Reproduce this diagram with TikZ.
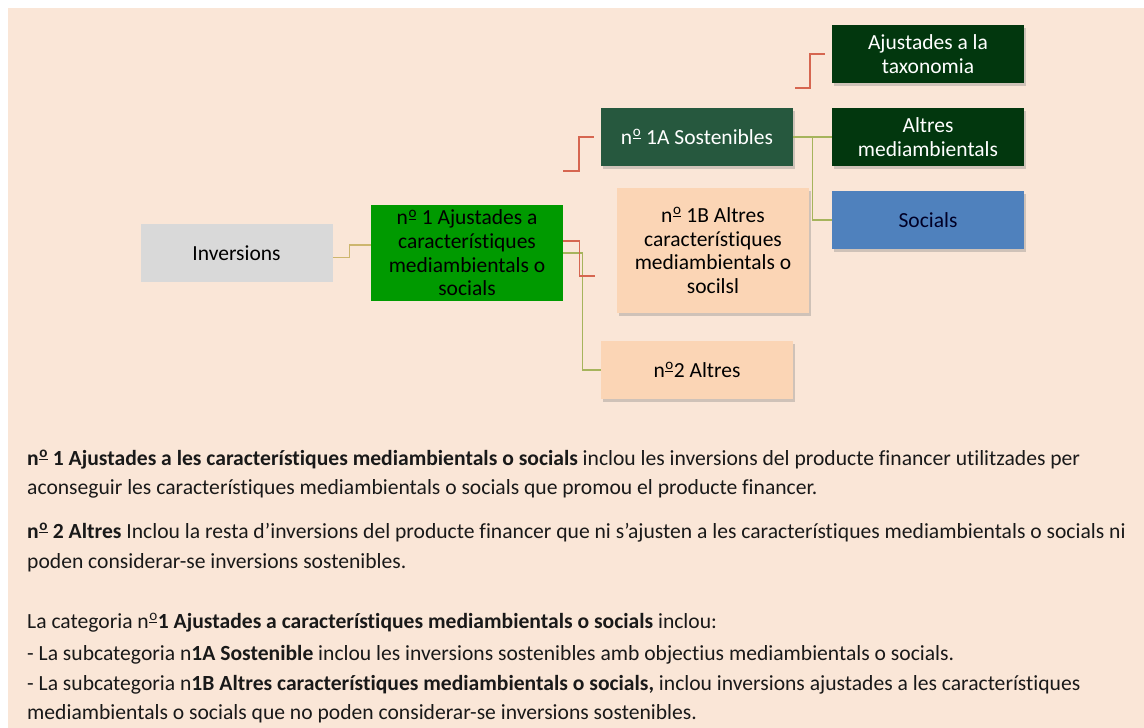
\documentclass[tikz,border=0pt]{standalone}
\usepackage{fontspec}
\setmainfont{Carlito}[Ligatures = NoCommon]
\usepackage{tikz}
\usetikzlibrary{calc, shadows}

\definecolor{fons}{RGB}{250,230,215}
\definecolor{grisclar}{RGB}{217,217,217}
\definecolor{verd}{RGB}{0,154,0}
\definecolor{verdfosc}{RGB}{38,88,62}
\definecolor{verdnegre}{RGB}{2,55,14}
\definecolor{preseg}{RGB}{251,213,181}
\definecolor{blau}{RGB}{79,129,189}
\definecolor{vermell}{RGB}{214,102,80}
\definecolor{oliva}{RGB}{166,180,92}
\definecolor{palla}{RGB}{205,182,110}

% o ordinal subratllada
\newcommand{\ordo}{\textsuperscript{\kern0.04em\underline{\smash{o}}}}

\tikzset{
  caixa/.style = {rectangle, minimum width = 192pt, minimum height = 58pt,
    inner sep = 2pt, align = center,
    font = \fontsize{21.5}{23.7}\selectfont},
  ombra/.style = {drop shadow = {opacity = 0.35, shadow xshift = 2pt,
    shadow yshift = -3pt}},
  linia/.style = {line width = 1.2pt},
  text cos/.style = {anchor = base west, inner sep = 0pt, text = black!90,
    font = \fontsize{21.6}{25}\selectfont}
}

\begin{document}
\begin{tikzpicture}[x = 1pt, y = -1pt]
\useasboundingbox (0, 0) rectangle (1144, 728);
\fill[white] (0, 0) rectangle (1144, 728);
\fill[fons] (8, 8) rectangle (1144, 728);

% arbre
\node[caixa, fill = grisclar] (inv) at (236.5, 253) {Inversions};
\node[caixa, fill = verd, minimum height = 96pt] (cat1) at (467, 253)
	{n\ordo{} 1 Ajustades a\\característiques\\mediambientals o\\socials};
\node[caixa, ombra, fill = verdfosc, text = white] (sost) at (697, 137)
	{n\ordo{} 1A Sostenibles};
\node[caixa, ombra, fill = preseg, minimum height = 125pt] (altres1b) at (713, 250.5)
	{n\ordo{} 1B Altres\\característiques\\mediambientals o\\socilsl};
\node[caixa, ombra, fill = preseg] (altres2) at (697, 370) {n\ordo2 Altres};
\node[caixa, ombra, fill = verdnegre, text = white] (taxo) at (928, 54)
	{Ajustades a la\\taxonomia};
\node[caixa, ombra, fill = verdnegre, text = white] (mediamb) at (928, 137)
	{Altres\\mediambientals};
\node[caixa, ombra, fill = blau, text = black!85!blue] (soc) at (928, 220) {Socials};

\coordinate (r1) at (595, 276);
\coordinate (r2) at (563, 171);
\coordinate (r3) at (795, 88);

\draw[linia, palla] ([yshift = 25pt]inv.south east) -- ++(17, 0)
	|- ([yshift = 8pt]cat1.west);
\draw[linia, oliva] (cat1.east) -- ++(19, 0) |- (altres2.west);
\draw[linia, vermell] ([yshift = 12pt]cat1.east) -- ++(16, 0) |- (r1);
\draw[linia, vermell] (r2) -- ++(16, 0) |- ([xshift = -7pt]sost.west);
\draw[linia, oliva] (sost.east) -- (mediamb.west);
\draw[linia, oliva] (sost.east) -- ++(19, 0) |- (soc.west);
\draw[linia, vermell] (r3) -- ++(15, 0) |- ([xshift = -7pt]taxo.west);

% text
\node[text cos] (t1) at (27, 465) {\textbf{n\ordo{} 1 Ajustades a les característiques mediambientals o socials} inclou les inversions del producte financer utilitzades per};
\node[text cos] (t2) at (27, 494) {aconseguir les característiques mediambientals o socials que promou el producte financer.};
\node[text cos] (t3) at (27, 538) {\textbf{n\ordo{} 2 Altres} Inclou la resta d’inversions del producte financer que ni s’ajusten a les característiques mediambientals o socials ni};
\node[text cos] (t4) at (27, 568) {poden considerar-se inversions sostenibles.};
\node[text cos] (t5) at (27, 628) {La categoria n\ordo\textbf{1 Ajustades a característiques mediambientals o socials} inclou:};
\node[text cos] (t6) at (27, 660) {- La subcategoria n\textbf{1A Sostenible} inclou les inversions sostenibles amb objectius mediambientals o socials.};
\node[text cos] (t7) at (27, 690) {- La subcategoria n\textbf{1B Altres característiques mediambientals o socials,} inclou inversions ajustades a les característiques};
\node[text cos] (t8) at (27, 719) {mediambientals o socials que no poden considerar-se inversions sostenibles.};
\end{tikzpicture}
\end{document}
